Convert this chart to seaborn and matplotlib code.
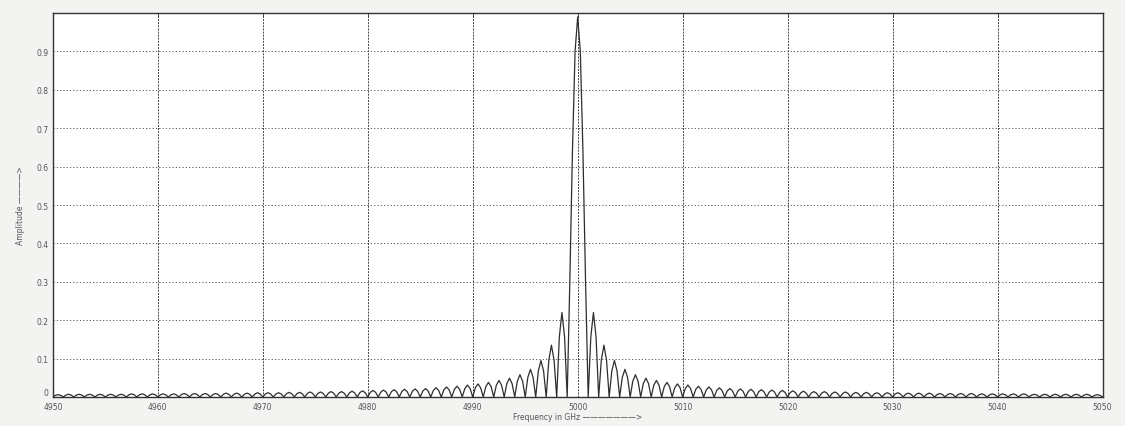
import matplotlib
matplotlib.use("Agg")
import matplotlib.pyplot as plt
import seaborn as sns
import numpy as np
import pandas as pd

# ---- data ----
center_ghz = 5000.0
null_spacing_ghz = 1.0
# main lobe samples (offset from centre in GHz, amplitude)
main_offsets = [-1.0, -0.75, -0.5, -0.25, 0.0, 0.25, 0.5, 0.75, 1.0]
main_amps = [0.0, 0.30, 0.64, 0.90, 0.99, 0.90, 0.64, 0.30, 0.0]
# side-lobe peak heights, lobe 1 (nearest the centre) outwards, same on both sides
sidelobe_peaks = [0.22, 0.135, 0.095, 0.072, 0.058, 0.049, 0.043, 0.038, 0.034, 0.031,
                  0.028, 0.026, 0.024, 0.022, 0.021, 0.020, 0.019, 0.018, 0.017, 0.016,
                  0.015, 0.014, 0.014, 0.013, 0.013, 0.012, 0.012, 0.011, 0.011, 0.011,
                  0.010, 0.010, 0.010, 0.009, 0.009, 0.009, 0.009, 0.008, 0.008, 0.008,
                  0.008, 0.008, 0.007, 0.007, 0.007, 0.007, 0.007, 0.007, 0.006]
# profile of one side lobe (fraction across the lobe, relative height)
lobe_fracs = [0.0, 0.25, 0.5, 0.75]
lobe_shape = [0.0, 0.71, 1.0, 0.71]

x_ticks = [4950, 4960, 4970, 4980, 4990, 5000, 5010, 5020, 5030, 5040, 5050]
y_ticks = [0, 0.1, 0.2, 0.3, 0.4, 0.5, 0.6, 0.7, 0.8, 0.9]
y_tick_labels = ["0", "0.1", "0.2", "0.3", "0.4", "0.5", "0.6", "0.7", "0.8", "0.9"]
x_label = "Frequency in GHz ———————>"
y_label = "Amplitude ————>"

# ---- assemble the trace from the read values ----
freqs, amps = [], []
n = len(sidelobe_peaks)
# left side, far to near
for k in range(n, 0, -1):
    pk = sidelobe_peaks[k - 1]
    for fr, sh in zip(lobe_fracs, lobe_shape):
        freqs.append(center_ghz - (k + 1) * null_spacing_ghz + fr * null_spacing_ghz)
        amps.append(pk * sh)
for o, a in zip(main_offsets, main_amps):
    freqs.append(center_ghz + o * null_spacing_ghz)
    amps.append(a)
for k in range(1, n + 1):
    pk = sidelobe_peaks[k - 1]
    for fr, sh in zip(lobe_fracs[1:] + [1.0], lobe_shape[1:] + [0.0]):
        freqs.append(center_ghz + k * null_spacing_ghz + fr * null_spacing_ghz)
        amps.append(pk * sh)

df = pd.DataFrame({"freq": freqs, "amp": amps}).drop_duplicates("freq")

sns.set_theme(style="white")
plt.rcParams["font.family"] = ["DejaVu Sans"]

fig = plt.figure(figsize=(11.25, 4.27), dpi=100, facecolor="#f3f3f1")
ax = fig.add_axes([0.047, 0.068, 0.933, 0.899])
ax.set_facecolor("white")

sns.lineplot(data=df, x="freq", y="amp", ax=ax, color="#2e2e2e", linewidth=0.9,
             estimator=None, sort=False)

ax.set_xlim(4950, 5050)
ax.set_ylim(0, 1)
ax.set_xticks(x_ticks)
ax.set_xticklabels([str(t) for t in x_ticks])
ax.set_yticks(y_ticks)
ax.set_yticklabels(y_tick_labels)
ax.tick_params(axis="both", direction="in", length=3, width=0.6, labelsize=5.5,
               labelcolor="#555555", color="#333333", top=True, right=True)
ax.tick_params(axis="x", pad=3.5)
ax.tick_params(axis="y", pad=3)
# lift the "0" label a little so it clears the first x label
ax.get_yticklabels()[0].set_verticalalignment("bottom")

ax.grid(True, which="major", axis="y", linestyle=(0, (1.2, 2.2)), color="#555555", linewidth=0.7)
ax.grid(True, which="major", axis="x", linestyle=(0, (2.0, 1.2)), color="#444444", linewidth=0.7)
for s in ax.spines.values():
    s.set_color("#333333")
    s.set_linewidth(1.0)
    s.set_visible(True)

ax.set_xlabel(x_label, fontsize=5.5, color="#555555", labelpad=0.5)
ax.set_ylabel(y_label, fontsize=5.5, color="#555555", labelpad=8)

fig.savefig("out.png", dpi=100, facecolor=fig.get_facecolor())
